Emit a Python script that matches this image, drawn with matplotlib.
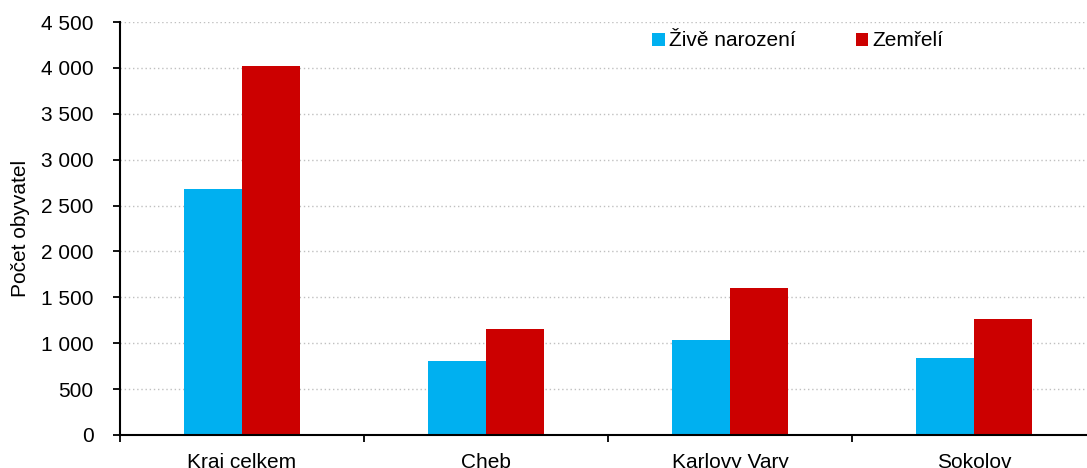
import matplotlib
matplotlib.use("Agg")
import matplotlib.pyplot as plt
import matplotlib.ticker as mticker
import numpy as np

plt.rcParams['font.family'] = ['Liberation Sans', 'DejaVu Sans']

categories = ["Kraj celkem", "Cheb", "Karlovy Vary", "Sokolov"]
zive_narozeni = [2680, 810, 1035, 836]
zemreli = [4020, 1155, 1598, 1264]
series_names = ["Živě narození", "Zemřelí"]
colors = ["#00B0F0", "#CC0000"]

W, H = 1087, 468
fig = plt.figure(figsize=(W / 100, H / 100), dpi=100)
# axes box in pixels: left 120, right ~1096 (cut off), top 22, bottom 435
ax = fig.add_axes([120 / W, (H - 435) / H, (1096 - 120) / W, (435 - 22) / H])

x = np.arange(len(categories))
bw = 0.238
ax.bar(x - bw / 2, zive_narozeni, bw, color=colors[0], label=series_names[0])
ax.bar(x + bw / 2, zemreli, bw, color=colors[1], label=series_names[1])

fs = 15
ax.set_xlim(-0.5, len(categories) - 0.5)
ax.set_ylim(0, 4500)
ax.yaxis.set_major_locator(mticker.MultipleLocator(500))
ax.yaxis.set_major_formatter(mticker.FuncFormatter(lambda v, p: f"{int(v):,}".replace(",", " ")))

ax.set_xticks(x)
ax.set_xticklabels(categories)
ax.set_xticks(np.arange(len(categories) + 1) - 0.5, minor=True)
ax.tick_params(axis='x', which='major', length=0, pad=13, labelsize=fs)
ax.tick_params(axis='x', which='minor', length=5, width=1.3, direction='out')
ax.tick_params(axis='y', length=5, width=1.3, direction='out', labelsize=fs, pad=14)

ax.grid(axis='y', linestyle=(0, (1, 2)), color='#c0c0c0', linewidth=1)
ax.set_axisbelow(True)
for s in ['top', 'right']:
    ax.spines[s].set_visible(False)
for s in ['left', 'bottom']:
    ax.spines[s].set_linewidth(1.5)

ax.set_ylabel("Počet obyvatel", fontsize=fs, labelpad=8)

ax.legend(loc='center left', bbox_to_anchor=(652 / W, (H - 41) / H),
          bbox_transform=fig.transFigure, ncol=2, frameon=False,
          fontsize=fs, handlelength=0.6, handleheight=0.6,
          handletextpad=0.2, columnspacing=2.9, borderpad=0, borderaxespad=0)

fig.savefig("out.png", dpi=100)
